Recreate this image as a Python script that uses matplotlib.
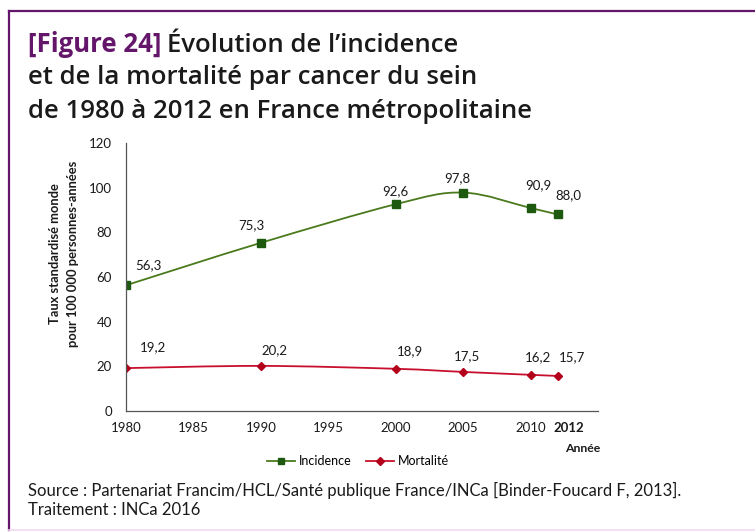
import matplotlib
matplotlib.use("Agg")
import matplotlib.pyplot as plt
from matplotlib.path import Path
from matplotlib.patches import PathPatch
from matplotlib.lines import Line2D
import numpy as np

# ---- data ----
years = [1980, 1990, 2000, 2005, 2010, 2012]
incidence = [56.3, 75.3, 92.6, 97.8, 90.9, 88.0]
mortalite = [19.2, 20.2, 18.9, 17.5, 16.2, 15.7]
inc_labels = ["56,3", "75,3", "92,6", "97,8", "90,9", "88,0"]
mor_labels = ["19,2", "20,2", "18,9", "17,5", "16,2", "15,7"]
xticks = [1980, 1985, 1990, 1995, 2000, 2005, 2010]
last_year = 2012
yticks = [0, 20, 40, 60, 80, 100, 120]

W, H = 755, 532
fig = plt.figure(figsize=(W / 100, H / 100), dpi=100)
fig.patch.set_facecolor("white")

TFONT = "Open Sans"
CFONT = "Lato"
PURPLE = "#64176a"
TXT = "#1a1a1a"

def fx(px):
    return px / W

def fy(py):
    return 1 - py / H

# border (left, top, bottom)
fig.add_artist(Line2D([fx(9), fx(9)], [fy(11), fy(530)], color=PURPLE, lw=1.6))
fig.add_artist(Line2D([fx(9), 1.0], [fy(11), fy(11)], color=PURPLE, lw=1.6))
fig.add_artist(Line2D([fx(9), 1.0], [fy(530), fy(530)], color="#f3d9f0", lw=1.2))

# title
renderer = fig.canvas.get_renderer()
tsize = 18.5
t1 = fig.text(fx(28), fy(45), "[Figure 24]", fontsize=tsize, fontweight="bold",
              color=PURPLE, family=TFONT, va="center", ha="left")
bb = t1.get_window_extent(renderer=renderer)
fig.text(bb.x1 / W + fx(6), fy(45), "Évolution de l\u2019incidence", fontsize=tsize,
         color=TXT, family=TFONT, va="center", ha="left", fontweight="semibold")
fig.text(fx(28), fy(78), "et de la mortalité par cancer du sein", fontsize=tsize,
         color=TXT, family=TFONT, va="center", ha="left", fontweight="semibold")
fig.text(fx(28), fy(111), "de 1980 à 2012 en France métropolitaine", fontsize=tsize,
         color=TXT, family=TFONT, va="center", ha="left", fontweight="semibold")

# axes
x0, x1 = 126, 598
y0, y1 = 411, 143
ax = fig.add_axes([fx(x0), fy(y0), (x1 - x0) / W, (y0 - y1) / H])
ax.set_xlim(1980, 2015)
ax.set_ylim(0, 120)
for s in ["top", "right"]:
    ax.spines[s].set_visible(False)
ax.spines["left"].set_color("#555555")
ax.spines["bottom"].set_color("#555555")
ax.spines["left"].set_linewidth(0.9)
ax.spines["bottom"].set_linewidth(0.9)
ax.set_yticks(yticks)
ax.set_yticklabels([str(v) for v in yticks])
ax.set_xticks(xticks)
ax.set_xticklabels([str(v) for v in xticks])
ax.tick_params(axis="both", length=0, labelsize=9.5, colors=TXT)
ax.tick_params(axis="x", pad=8)
ax.tick_params(axis="y", pad=10)
for lab in ax.get_xticklabels() + ax.get_yticklabels():
    lab.set_family(CFONT)
ax.patch.set_alpha(0)

# separate label for the last year, shifted right as in the original
ax.annotate(str(last_year), (last_year, 0), xycoords=("data", "axes fraction"),
            xytext=(11, -17), textcoords="offset pixels", ha="center", va="center",
            fontsize=9.5, fontweight="bold", family=CFONT, color=TXT)


def smooth_path(xs, ys):
    pts = np.column_stack([xs, ys]).astype(float)
    n = len(pts)
    verts = [pts[0]]
    codes = [Path.MOVETO]
    for i in range(n - 1):
        p0 = pts[i - 1] if i > 0 else pts[i]
        p1 = pts[i]
        p2 = pts[i + 1]
        p3 = pts[i + 2] if i + 2 < n else pts[i + 1]
        c1 = p1 + (p2 - p0) / 6.0
        c2 = p2 - (p3 - p1) / 6.0
        verts += [c1, c2, p2]
        codes += [Path.CURVE4] * 3
    return Path(verts, codes)


INC_LINE = "#4a7a1c"
INC_MK = "#1d5a10"
MOR_LINE = "#c8102e"
MOR_MK = "#b3001b"

ax.add_patch(PathPatch(smooth_path(years, incidence), fill=False, edgecolor=INC_LINE, lw=1.3))
ax.add_patch(PathPatch(smooth_path(years, mortalite), fill=False, edgecolor=MOR_LINE, lw=1.3))
ax.plot(years, incidence, ls="none", marker="s", ms=5.5, color=INC_MK)
ax.plot(years, mortalite, ls="none", marker="D", ms=4.5, color=MOR_MK)

inc_off = [(22, 20), (-9, 18), (0, 13), (-6, 14), (8, 23), (11, 19)]
mor_off = [(27, 21), (14, 16), (14, 18), (4, 16), (7, 18), (14, 19)]
for xv, yv, lab, off in zip(years, incidence, inc_labels, inc_off):
    ax.annotate(lab, (xv, yv), xytext=off, textcoords="offset pixels",
                ha="center", va="center", fontsize=9.5, family=CFONT, color=TXT)
for xv, yv, lab, off in zip(years, mortalite, mor_labels, mor_off):
    ax.annotate(lab, (xv, yv), xytext=off, textcoords="offset pixels",
                ha="center", va="center", fontsize=9.5, family=CFONT, color=TXT)

# y label (two lines)
fig.text(fx(55), fy(254), "Taux standardisé monde", rotation=90, fontsize=9.3,
         fontweight="bold", family=CFONT, color=TXT, ha="center", va="center")
fig.text(fx(73), fy(254), "pour 100 000 personnes-années", rotation=90, fontsize=9.3,
         fontweight="bold", family=CFONT, color=TXT, ha="center", va="center")
fig.text(fx(583), fy(448), "Année", fontsize=8.8, fontweight="bold", family=CFONT,
         color=TXT, ha="center", va="center")

# legend
handles = [
    Line2D([], [], color=INC_LINE, lw=1.3, marker="s", ms=5, mfc=INC_MK, mec=INC_MK),
    Line2D([], [], color=MOR_LINE, lw=1.3, marker="D", ms=4, mfc=MOR_MK, mec=MOR_MK),
]
fig.legend(handles, ["Incidence", "Mortalité"], loc="center", bbox_to_anchor=(fx(358), fy(461)),
           ncol=2, frameon=False, prop={"family": CFONT, "size": 9},
           handlelength=2.2, handletextpad=0.3, columnspacing=1.2)

# source
fig.text(fx(28), fy(490), "Source : Partenariat Francim/HCL/Santé publique France/INCa [Binder-Foucard F, 2013].",
         fontsize=12, family=CFONT, color=TXT, ha="left", va="center")
fig.text(fx(28), fy(510), "Traitement : INCa 2016", fontsize=12, family=CFONT, color=TXT,
         ha="left", va="center")

fig.savefig("out.png", dpi=100, facecolor="white")
